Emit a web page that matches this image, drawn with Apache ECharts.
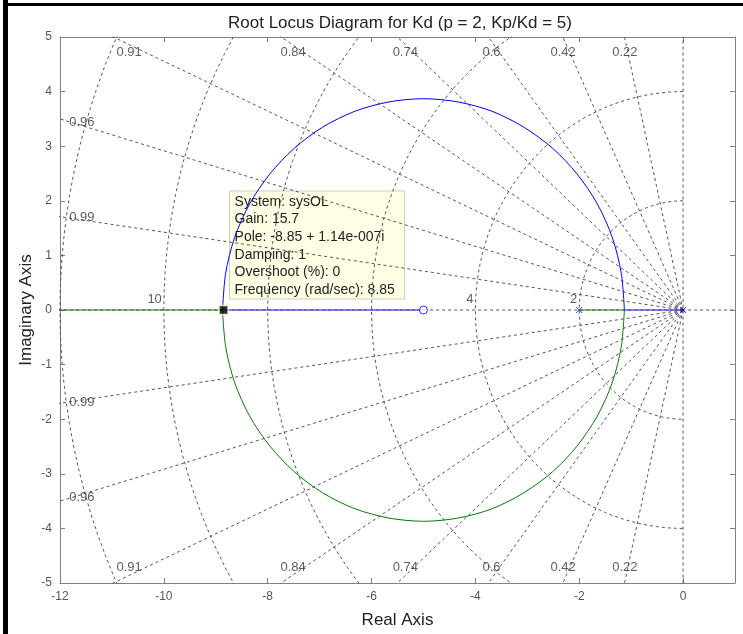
<!DOCTYPE html>
<html>
<head>
<meta charset="utf-8">
<script src="https://cdn.jsdelivr.net/npm/echarts@6/dist/echarts.min.js"></script>
<style>
html,body{margin:0;padding:0;background:#fff;}
#chart{width:743px;height:634px;}
</style>
</head>
<body>
<div id="chart"></div>
<script>
// ---- data ----
const titleText = 'Root Locus Diagram for Kd (p = 2, Kp/Kd = 5)';
const xTicks = [-12, -10, -8, -6, -4, -2, 0];
const yTicks = [-5, -4, -3, -2, -1, 0, 1, 2, 3, 4, 5];
const poles = [[0, 0], [-2, 0]];
const zerosPts = [[-5, 0]];
// branch 1 (blue): pole 0 -> breakaway -> upper arc -> break-in -> zero -5
const blueRealA = [[0, 0], [-1.13, 0]];
const blueArc = [[-1.13,0],[-1.19,0.67],[-1.36,1.32],[-1.65,1.94],[-2.04,2.49],[-2.51,2.96],[-3.07,3.35],[-3.68,3.64],[-4.33,3.81],[-5.0,3.87],[-5.67,3.81],[-6.32,3.64],[-6.94,3.35],[-7.49,2.96],[-7.96,2.49],[-8.35,1.94],[-8.64,1.32],[-8.81,0.67],[-8.87,0]];
const blueRealB = [[-8.87, 0], [-5, 0]];
// branch 2 (green): pole -2 -> breakaway -> lower arc -> break-in -> -inf
const greenRealA = [[-2, 0], [-1.13, 0]];
const greenArc = [[-1.13,0],[-1.19,-0.67],[-1.36,-1.32],[-1.65,-1.94],[-2.04,-2.49],[-2.51,-2.96],[-3.07,-3.35],[-3.68,-3.64],[-4.33,-3.81],[-5.0,-3.87],[-5.67,-3.81],[-6.32,-3.64],[-6.94,-3.35],[-7.49,-2.96],[-7.96,-2.49],[-8.35,-1.94],[-8.64,-1.32],[-8.81,-0.67],[-8.87,0]];
const greenRealB = [[-8.87, 0], [-14, 0]];
// s-grid
const zetaValues = [0.22, 0.42, 0.6, 0.74, 0.84, 0.91, 0.96, 0.99];
const wnValues = [2, 4, 6, 8, 10, 12];
const wnLabelValues = [10, 4, 2];
// data tip
const selectedPole = [-8.85, 0];
const tipLines = ['System: sysOL', 'Gain: 15.7', 'Pole: -8.85 + 1.14e-007i', 'Damping: 1', 'Overshoot (%): 0', 'Frequency (rad/sec): 8.85'];

// ---- layout (annotation placement, data units) ----
const zetaTopLabelPos = {0.91: -10.67, 0.84: -7.51, 0.74: -5.35, 0.6: -3.69, 0.42: -2.31, 0.22: -1.12};
const zetaTopY = 4.72;
const zetaSideLabelPos = {0.96: 3.43, 0.99: 1.70};
const zetaSideX = -11.58;

const GRID_COLOR = '#555';
const FONT = '"Liberation Sans", Arial, sans-serif';

const chart = echarts.init(document.getElementById('chart'), null, {renderer: 'canvas'});

const series = [];
function gridLine(data, z) {
  series.push({
    type: 'line', data: data, showSymbol: false, symbol: 'none', silent: true, clip: true,
    lineStyle: {color: GRID_COLOR, width: 1, type: [3, 3]}, z: z || 1, animation: false
  });
}
// damping rays
zetaValues.forEach(function (zt) {
  const s = Math.sqrt(1 - zt * zt);
  gridLine([[0, 0], [-20 * zt, 20 * s]]);
  gridLine([[0, 0], [-20 * zt, -20 * s]]);
});
// frequency arcs
wnValues.forEach(function (r) {
  const pts = [];
  for (let i = 0; i <= 90; i++) {
    const a = Math.PI / 2 + Math.PI * i / 90;
    pts.push([r * Math.cos(a), r * Math.sin(a)]);
  }
  gridLine(pts);
});
// imaginary axis line
gridLine([[0, -6], [0, 6]]);

function locus(data, color, smooth) {
  series.push({
    type: 'line', data: data, showSymbol: false, symbol: 'none', smooth: smooth ? 0.3 : false,
    lineStyle: {color: color, width: 1}, z: 3, animation: false, silent: true, clip: true
  });
}
const BLUE = '#0000ff', GREEN = '#008000';
locus(blueRealA, BLUE); locus(blueArc, BLUE, true); locus(blueRealB, BLUE);
locus(greenRealA, GREEN); locus(greenArc, GREEN, true); locus(greenRealB, GREEN);

// real-axis dashed line on top of locus
gridLine([[-14, 0], [2, 0]], 4);

// poles (x) and zero (o)
series.push({
  type: 'scatter', data: poles, symbol: 'path://M0,0L10,10M10,0L0,10', symbolSize: 6,
  itemStyle: {color: 'none', borderColor: BLUE, borderWidth: 1}, z: 5, silent: true, animation: false
});
series.push({
  type: 'scatter', data: zerosPts, symbol: 'circle', symbolSize: 8,
  itemStyle: {color: '#fff', borderColor: BLUE, borderWidth: 1}, z: 5, silent: true, animation: false
});
// damping labels
const labelData = [];
zetaValues.forEach(function (zt) {
  if (zetaTopLabelPos[zt] !== undefined) {
    labelData.push({value: [zetaTopLabelPos[zt], zetaTopY], name: String(zt)});
    labelData.push({value: [zetaTopLabelPos[zt], -zetaTopY], name: String(zt)});
  }
  if (zetaSideLabelPos[zt] !== undefined) {
    labelData.push({value: [zetaSideX, zetaSideLabelPos[zt]], name: String(zt)});
    labelData.push({value: [zetaSideX, -zetaSideLabelPos[zt]], name: String(zt)});
  }
});
series.push({
  type: 'scatter', data: labelData, symbolSize: 0, silent: true, animation: false, z: 6,
  label: {show: true, position: 'inside', formatter: function (p) { return p.name; },
    color: '#333', fontSize: 13, fontFamily: FONT}
});
// frequency labels
series.push({
  type: 'scatter', data: wnLabelValues.map(function (r) { return {value: [-r, 0], name: String(r)}; }),
  symbolSize: 0, silent: true, animation: false, z: 6,
  label: {show: true, position: [-2, -4], align: 'right', verticalAlign: 'bottom',
    formatter: function (p) { return p.name; }, color: '#333', fontSize: 13, fontFamily: FONT}
});
// selected pole marker
series.push({
  type: 'scatter', data: [selectedPole], symbol: 'rect', symbolSize: 9,
  itemStyle: {color: '#000', borderColor: '#ffffd0', borderWidth: 1.5}, z: 20, zlevel: 1, silent: true, animation: false
});

function axisCommon() {
  return {
    axisLine: {show: true, onZero: false, lineStyle: {color: '#808080', width: 1}},
    axisTick: {show: true, inside: true, length: 5, lineStyle: {color: '#808080'}},
    splitLine: {show: false}
  };
}

chart.setOption({
  animation: false,
  backgroundColor: '#fff',
  title: {text: titleText, left: 395, top: 10, textAlign: 'center',
    textStyle: {fontFamily: FONT, fontSize: 17, fontWeight: 'normal', color: '#222'}},
  grid: {left: 60, right: 8, top: 37, bottom: 51, containLabel: false},
  xAxis: [
    Object.assign({type: 'value', min: -12, max: 1, interval: 2, position: 'bottom',
      name: 'Real Axis', nameLocation: 'middle', nameGap: 29,
      nameTextStyle: {fontFamily: FONT, fontSize: 17, color: '#222'},
      axisLabel: {fontFamily: FONT, fontSize: 12, color: '#555', margin: 8,
        formatter: function (v) { return xTicks.indexOf(v) >= 0 ? String(v) : ''; }}}, axisCommon()),
    Object.assign({type: 'value', min: -12, max: 1, interval: 2, position: 'top', axisLabel: {show: false}}, axisCommon())
  ],
  yAxis: [
    Object.assign({type: 'value', min: -5, max: 5, interval: 1, position: 'left',
      name: 'Imaginary Axis', nameLocation: 'middle', nameGap: 25, nameMoveOverlap: false,
      nameTextStyle: {fontFamily: FONT, fontSize: 17, color: '#222'},
      axisLabel: {fontFamily: FONT, fontSize: 12, color: '#555', margin: 8,
        formatter: function (v) { return yTicks.indexOf(v) >= 0 ? String(v) : ''; }}}, axisCommon()),
    Object.assign({type: 'value', min: -5, max: 5, interval: 1, position: 'right', axisLabel: {show: false}}, axisCommon())
  ],
  series: series
});

// data tip box anchored at the selected pole
const p = chart.convertToPixel({gridIndex: 0}, selectedPole);
const boxX = p[0] + 6, boxY = p[1] - 119, boxW = 175, boxH = 108;
const tipChildren = [{
  type: 'rect', shape: {x: boxX, y: boxY, width: boxW, height: boxH},
  style: {fill: '#ffffe6', stroke: '#cfcfb0', lineWidth: 1}
}];
tipLines.forEach(function (t, i) {
  tipChildren.push({type: 'text', x: boxX + 5, y: boxY + 11 + i * 17.6,
    style: {text: t, fill: '#222', font: '14px ' + FONT, verticalAlign: 'middle'}});
});
chart.setOption({
  graphic: [
    {type: 'group', z: 100, children: tipChildren},
    {type: 'rect', z: 200, shape: {x: 3, y: 0, width: 5, height: 634}, style: {fill: '#000'}},
    {type: 'rect', z: 200, shape: {x: 3, y: 3, width: 740, height: 3}, style: {fill: '#000'}}
  ]
});
</script>
</body>
</html>
